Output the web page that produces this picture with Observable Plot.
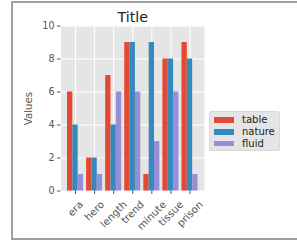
<!DOCTYPE html>
<html>
<head>
<meta charset="utf-8">
<script src="https://cdn.jsdelivr.net/npm/d3@7"></script>
<script src="https://cdn.jsdelivr.net/npm/@observablehq/plot@0.6"></script>
<style>
  html, body { margin: 0; padding: 0; background: #fff; }
  body { width: 297px; height: 241px; overflow: hidden; position: relative; font-family: "DejaVu Sans", sans-serif; }
  #frame { position: absolute; left: 11px; top: 1px; width: 300px; height: 235px; border-left: 2px solid #a0a0a0; border-top: 2px solid #a0a0a0; border-bottom: 2px solid #a0a0a0; }
  #chart { position: absolute; left: 0; top: 0; }
  #legend { position: absolute; left: 209px; top: 111px; width: 71px; height: 40px; background: #e5e5e5; border: 1px solid #d8d8d8; border-radius: 2px; box-sizing: border-box; }
  .row { position: absolute; left: 0; height: 12px; }
  .sw { position: absolute; left: 4px; width: 20px; height: 5.5px; }
  .lb { position: absolute; left: 32px; font-size: 10px; color: #222; line-height: 12px; white-space: nowrap; }
</style>
</head>
<body>
<div id="frame"></div>
<div id="chart"></div>
<div id="legend"></div>
<script>
const categories = ["era", "hero", "length", "trend", "minute", "tissue", "prison"];
const series = ["table", "nature", "fluid"];
const tableValues = [6, 2, 7, 9, 1, 8, 9];
const natureValues = [4, 2, 4, 9, 9, 8, 8];
const fluidValues = [1, 1, 6, 6, 3, 6, 1];
const colors = ["#E24A33", "#348ABD", "#988ED5"];
const yTicks = [0, 2, 4, 6, 8, 10];

const seriesValues = [tableValues, natureValues, fluidValues];
const barW = 0.28;
const idx = categories.map((c, i) => i);

const rows = series.flatMap((s, j) =>
  seriesValues[j].map((v, i) => ({ i, j, s, v }))
);

const tickFont = 9.6;
const xFont = 10.2;
const cv = document.createElement("canvas").getContext("2d");
cv.font = `${xFont}px "DejaVu Sans"`;

const xLabelMarks = categories.map((c, i) => {
  const w = cv.measureText(c).width;
  const H = (w + 9.5) * Math.SQRT1_2;
  return Plot.text([c], {
    x: () => i,
    frameAnchor: "bottom",
    dy: 8.5 + H / 2,
    rotate: -45,
    textAnchor: "middle",
    lineAnchor: "middle",
    fontSize: xFont,
    fill: "#555"
  });
});

const chart = Plot.plot({
  width: 297,
  height: 241,
  marginLeft: 60.5,
  marginRight: 93,
  marginTop: 25.5,
  marginBottom: 50.5,
  style: { fontFamily: "DejaVu Sans", background: "transparent", overflow: "visible" },
  x: { type: "linear", domain: [-0.76, 6.76], axis: null },
  y: { domain: [0, 10], axis: null },
  color: { domain: series, range: colors },
  marks: [
    Plot.frame({ fill: "#e5e5e5", stroke: null }),
    Plot.gridY({ ticks: yTicks, stroke: "white", strokeOpacity: 1, strokeWidth: 1 }),
    Plot.gridX({ ticks: idx, stroke: "white", strokeOpacity: 1, strokeWidth: 1 }),
    Plot.rectY(rows, {
      x1: d => d.i + (d.j - 1.5) * barW,
      x2: d => d.i + (d.j - 0.5) * barW,
      y1: 0,
      y2: "v",
      fill: "s"
    }),
    Plot.axisY({ ticks: yTicks, tickSize: 3.5, tickPadding: 3, fontSize: tickFont, stroke: "#555", fill: "#555", label: null }),
    Plot.axisX({ ticks: idx, tickSize: 3.5, tickFormat: () => "", stroke: "#555", label: null }),
    ...xLabelMarks,
    Plot.text(["Values"], { frameAnchor: "left", dx: -32, rotate: -90, fontSize: 10.2, fill: "#555", textAnchor: "middle", lineAnchor: "middle" }),
    Plot.text(["Title"], { frameAnchor: "top", dy: -4.5, fontSize: 14.3, fill: "#222", lineAnchor: "bottom" })
  ]
});
document.getElementById("chart").appendChild(chart);

const legend = document.getElementById("legend");
series.forEach((s, j) => {
  const row = document.createElement("div");
  row.className = "row";
  row.style.top = (2.3 + j * 11.6) + "px";
  row.style.width = "100%";
  const sw = document.createElement("div");
  sw.className = "sw";
  sw.style.background = colors[j];
  sw.style.top = "3.2px";
  const lb = document.createElement("div");
  lb.className = "lb";
  lb.textContent = s;
  row.appendChild(sw);
  row.appendChild(lb);
  legend.appendChild(row);
});
</script>
</body>
</html>
